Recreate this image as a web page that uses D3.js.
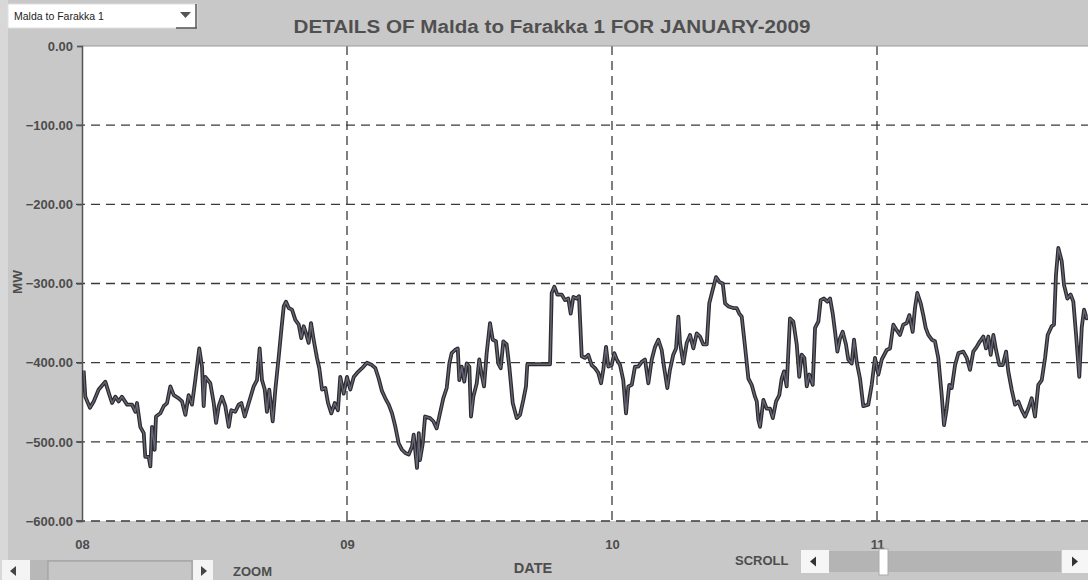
<!DOCTYPE html>
<html>
<head>
<meta charset="utf-8">
<script src="https://cdn.jsdelivr.net/npm/d3@7"></script>
<style>
html,body{margin:0;padding:0;background:#c8c8c8;}
svg{display:block;font-family:"Liberation Sans",Arial,sans-serif;}
</style>
</head>
<body>
<svg id="chart" width="1088" height="580"></svg>
<script>
// ---- data (hours after 08-Jan-2009 00:00, MW) ----
const hoursFrom08 = [0.15,0.30,0.72,1.06,1.51,2.11,2.42,2.72,3.02,3.32,3.62,4.08,4.53,4.83,4.98,5.28,5.59,5.73,6.04,6.19,6.34,6.58,6.70,7.09,7.40,7.70,8.00,8.31,8.76,9.06,9.36,9.66,9.96,10.26,10.62,10.87,11.02,11.17,11.62,11.93,12.14,12.38,12.68,12.98,13.29,13.52,13.88,14.19,14.43,14.74,15.10,15.55,15.85,16.09,16.30,16.55,16.75,16.96,17.27,17.51,17.82,18.05,18.27,18.48,18.72,19.02,19.32,19.63,19.86,20.08,20.29,20.53,20.74,20.98,21.28,21.49,21.74,22.04,22.28,22.58,22.89,23.18,23.39,23.70,24.00,24.30,24.61,24.91,25.36,25.81,26.26,26.57,26.87,27.17,27.47,27.78,28.08,28.38,28.68,28.98,29.28,29.59,29.89,30.04,30.34,30.50,30.61,30.86,31.07,31.52,31.82,32.12,32.42,32.72,33.03,33.27,33.48,33.78,34.03,34.17,34.39,34.62,34.84,35.08,35.23,35.44,35.75,35.98,36.20,36.41,36.65,36.95,37.20,37.49,37.70,37.92,38.16,38.46,38.70,39.01,39.37,39.67,39.97,40.21,40.33,42.39,42.54,42.78,43.05,43.45,43.74,44.04,44.26,44.50,44.80,45.01,45.26,45.56,45.85,46.16,46.46,46.76,47.01,47.21,47.46,47.67,47.97,48.21,48.43,48.73,49.02,49.27,49.48,49.79,50.08,50.38,50.69,50.99,51.29,51.60,51.90,52.20,52.50,52.71,53.01,53.25,53.55,53.80,54.01,54.16,54.46,54.77,55.07,55.37,55.67,55.97,56.27,56.58,56.81,57.12,57.42,57.72,58.03,58.24,58.54,58.99,59.29,59.53,59.75,60.05,60.35,60.65,60.95,61.11,61.25,61.41,61.71,62.01,62.31,62.56,62.86,63.15,63.37,63.58,63.82,64.12,64.42,64.73,64.96,65.18,65.42,65.64,65.87,66.18,66.39,66.69,66.90,67.20,67.50,67.75,67.99,68.20,68.41,68.65,68.89,69.19,69.40,69.71,69.92,70.16,70.46,70.76,71.21,71.52,71.82,72.12,72.43,72.88,73.18,73.48,73.78,74.08,74.38,74.69,74.93,75.23,75.44,75.65,75.96,76.19,76.41,76.65,76.96,77.25,77.55,77.86,78.07,78.31,78.55,78.77,79.07,79.37,79.82,80.13,80.42,80.72,81.03,81.33,81.63,81.87,82.08,82.30,82.54,82.78,83.08,83.39,83.69,83.89,84.20,84.50,84.80,85.11,85.41,85.71,86.01,86.31,86.61,86.92,87.22,87.46,87.82,88.03,88.21,88.42,88.73,88.94,89.24,89.54,89.78,90.03,90.32,90.54,90.75,90.99,91.11];
const mwValues = [-410,-443,-457,-449,-434,-424,-438,-451,-443,-449,-443,-453,-453,-462,-451,-481,-489,-519,-519,-531,-481,-510,-468,-464,-455,-451,-430,-441,-445,-449,-466,-441,-453,-422,-382,-405,-455,-418,-426,-451,-476,-455,-443,-455,-481,-460,-462,-453,-451,-468,-451,-430,-422,-382,-422,-434,-462,-434,-474,-434,-392,-359,-329,-323,-331,-333,-346,-352,-369,-354,-363,-375,-350,-371,-394,-407,-434,-432,-451,-464,-451,-460,-418,-439,-418,-434,-418,-413,-407,-400,-403,-407,-420,-436,-445,-453,-464,-481,-502,-510,-514,-516,-506,-491,-533,-489,-523,-502,-468,-470,-474,-483,-464,-445,-432,-401,-388,-384,-382,-422,-405,-424,-401,-405,-468,-443,-426,-396,-415,-430,-388,-350,-371,-373,-401,-407,-373,-377,-405,-451,-470,-466,-447,-430,-402,-402,-312,-304,-314,-314,-321,-319,-338,-317,-319,-316,-392,-394,-390,-403,-407,-413,-426,-409,-380,-405,-403,-388,-396,-403,-422,-464,-430,-428,-405,-405,-399,-396,-426,-396,-380,-371,-384,-405,-432,-409,-390,-382,-342,-375,-401,-375,-365,-382,-363,-367,-377,-377,-325,-308,-292,-298,-300,-325,-329,-331,-331,-338,-342,-380,-420,-428,-443,-449,-472,-481,-447,-458,-458,-470,-449,-441,-420,-411,-430,-344,-348,-377,-418,-390,-394,-430,-415,-428,-356,-348,-321,-319,-323,-319,-338,-361,-386,-369,-361,-377,-396,-401,-371,-399,-420,-455,-453,-428,-394,-415,-396,-384,-382,-352,-359,-365,-352,-350,-340,-361,-331,-312,-325,-340,-356,-365,-371,-373,-394,-441,-479,-458,-428,-432,-403,-388,-386,-394,-409,-386,-380,-373,-367,-382,-367,-390,-365,-384,-403,-403,-386,-411,-434,-453,-449,-460,-468,-458,-445,-468,-428,-422,-394,-365,-354,-352,-289,-255,-272,-302,-319,-314,-323,-365,-418,-356,-333,-344,-340];
const yTickValues = [0,-100,-200,-300,-400,-500,-600];
const dayTickLabels = ["08","09","10","11"];
const lineName = "Malda to Farakka 1";
const titleText = "DETAILS OF Malda to Farakka 1 FOR JANUARY-2009";

// ---- layout ----
const svg = d3.select("#chart");
const W = 1088, H = 580;
const pL = 82, pR = 1088, pT = 46, pB = 521;
const start = new Date(2009,0,8,0,0);
const end = new Date(2009,0,12,0,0);
const x = d3.scaleTime().domain([start,end]).range([pL, pL + 4*265]);
const y = d3.scaleLinear().domain([-600,0]).range([pB, pT]);

const data = hoursFrom08.map((h,i)=>({t:new Date(start.getTime()+h*3600e3), v:mwValues[i]}));

// background
svg.append("rect").attr("width",W).attr("height",H).attr("fill","#c8c8c8");
svg.append("rect").attr("x",0).attr("y",0).attr("width",8).attr("height",H).attr("fill","#d8d8d8");

// plot area
svg.append("rect").attr("x",pL).attr("y",pT).attr("width",pR-pL).attr("height",pB-pT).attr("fill","#ffffff");

svg.append("defs").append("clipPath").attr("id","clip")
  .append("rect").attr("x",pL).attr("y",pT-2).attr("width",pR-pL).attr("height",pB-pT+4);

// horizontal gridlines
const gridY = svg.append("g");
gridY.selectAll("line").data(yTickValues.filter(v=>v!==0)).join("line")
  .attr("x1",pL-6).attr("x2",pR)
  .attr("y1",d=>y(d)).attr("y2",d=>y(d))
  .attr("stroke","#3a3a3a").attr("stroke-width",1.3)
  .attr("stroke-dasharray","9,6");
// vertical gridlines
const dayTicks = x.ticks(d3.timeDay.every(1)).filter(d=>d<end);
svg.append("g").attr("clip-path","url(#clip)").selectAll("line").data(dayTicks.slice(1)).join("line")
  .attr("x1",d=>x(d)).attr("x2",d=>x(d)).attr("y1",pT).attr("y2",pB)
  .attr("stroke","#3a3a3a").attr("stroke-width",1.3).attr("stroke-dasharray","9,6");

// top border
svg.append("line").attr("x1",pL).attr("x2",pR).attr("y1",pT).attr("y2",pT).attr("stroke","#9a9a9a").attr("stroke-width",1);
// left axis
const yAxis = d3.axisLeft(y).tickValues(yTickValues).tickSize(5).tickFormat(d3.format(".2f"));
const gy = svg.append("g").attr("transform",`translate(${pL},0)`).call(yAxis);
gy.select(".domain").attr("stroke","#555").attr("stroke-width",1.5);
gy.selectAll(".tick line").attr("stroke","#555").attr("stroke-width",1.3);
gy.selectAll(".tick text").attr("x",-9).attr("fill","#4d4d4d")
  .style("font-size","13px").style("font-weight","bold").style("font-family","'Liberation Sans',Arial,sans-serif");

// bottom axis labels
const xAxis = d3.axisBottom(x).tickValues(dayTicks).tickSize(0).tickFormat((d,i)=>dayTickLabels[i]);
const gx = svg.append("g").attr("transform",`translate(0,${pB+16})`).call(xAxis);
gx.select(".domain").remove();
gx.selectAll(".tick text").attr("fill","#4d4d4d")
  .style("font-size","13px").style("font-weight","bold").style("font-family","'Liberation Sans',Arial,sans-serif");

// data line
const line = d3.line().x(d=>x(d.t)).y(d=>y(d.v));
const gl = svg.append("g").attr("clip-path","url(#clip)");
gl.append("path").datum(data).attr("d",line).attr("fill","none")
  .attr("stroke","#2b2b2b").attr("stroke-width",3.8).attr("stroke-linejoin","round");
gl.append("path").datum(data).attr("d",line).attr("fill","none")
  .attr("stroke","#66667a").attr("stroke-width",1.4).attr("stroke-linejoin","round");

// y label
svg.append("text").attr("transform","translate(22,282) rotate(-90)").attr("text-anchor","middle")
  .attr("fill","#4d4d4d").style("font-size","13.5px").style("font-weight","bold").text("MW");

// title
svg.append("text").attr("x",552).attr("y",33).attr("text-anchor","middle")
  .attr("fill","#505050").style("font-size","17.5px").style("font-weight","bold")
  .attr("textLength",517).attr("lengthAdjust","spacingAndGlyphs").text(titleText);

// dropdown
const dd = svg.append("g");
dd.append("rect").attr("x",8).attr("y",4).attr("width",189).attr("height",24).attr("fill","#ffffff").attr("stroke","#e0e0e0");
dd.append("line").attr("x1",196).attr("x2",196).attr("y1",4).attr("y2",28).attr("stroke","#555").attr("stroke-width",1.5);
dd.append("line").attr("x1",176).attr("x2",197).attr("y1",28).attr("y2",28).attr("stroke","#555").attr("stroke-width",1.5);
dd.append("text").attr("x",14).attr("y",20).attr("fill","#222").style("font-size","10.5px").text(lineName);
dd.append("path").attr("d","M180,12 L191,12 L185.5,18 Z").attr("fill","#555");

// DATE label
svg.append("text").attr("x",533).attr("y",573).attr("text-anchor","middle").attr("fill","#4d4d4d")
  .style("font-size","14.5px").style("font-weight","bold").text("DATE");

// zoom scrollbar (bottom left)
const zb = svg.append("g");
zb.append("rect").attr("x",2).attr("y",560).attr("width",28).attr("height",22).attr("fill","#f4f4f4");
zb.append("path").attr("d","M10,571 L16,566 L16,576 Z").attr("fill","#444");
zb.append("rect").attr("x",30).attr("y",560).attr("width",163).attr("height",22).attr("fill","#b8b8b8");
zb.append("rect").attr("x",48).attr("y",561).attr("width",144).attr("height",21).attr("fill","#c6c6c6").attr("stroke","#9a9a9a");
zb.append("rect").attr("x",193).attr("y",560).attr("width",20).attr("height",22).attr("fill","#f4f4f4");
zb.append("path").attr("d","M201,566 L207,571 L201,576 Z").attr("fill","#444");
svg.append("text").attr("x",233).attr("y",576).attr("fill","#4d4d4d").style("font-size","13px").style("font-weight","bold").text("ZOOM");

// scroll
svg.append("text").attr("x",735).attr("y",565).attr("fill","#4d4d4d").style("font-size","13px").style("font-weight","bold").text("SCROLL");
const sb = svg.append("g");
sb.append("rect").attr("x",801).attr("y",550).attr("width",28).attr("height",23).attr("fill","#f6f6f6");
sb.append("path").attr("d","M810,561.5 L816,556.5 L816,566.5 Z").attr("fill","#333");
sb.append("rect").attr("x",829).attr("y",551).attr("width",232).attr("height",21).attr("fill","#b4b4b4");
sb.append("rect").attr("x",879).attr("y",549).attr("width",9).attr("height",26).attr("fill","#ffffff").attr("stroke","#aaa");
sb.append("rect").attr("x",1062).attr("y",550).attr("width",26).attr("height",23).attr("fill","#f6f6f6");
sb.append("path").attr("d","M1072,556.5 L1078,561.5 L1072,566.5 Z").attr("fill","#333");
</script>
</body>
</html>
